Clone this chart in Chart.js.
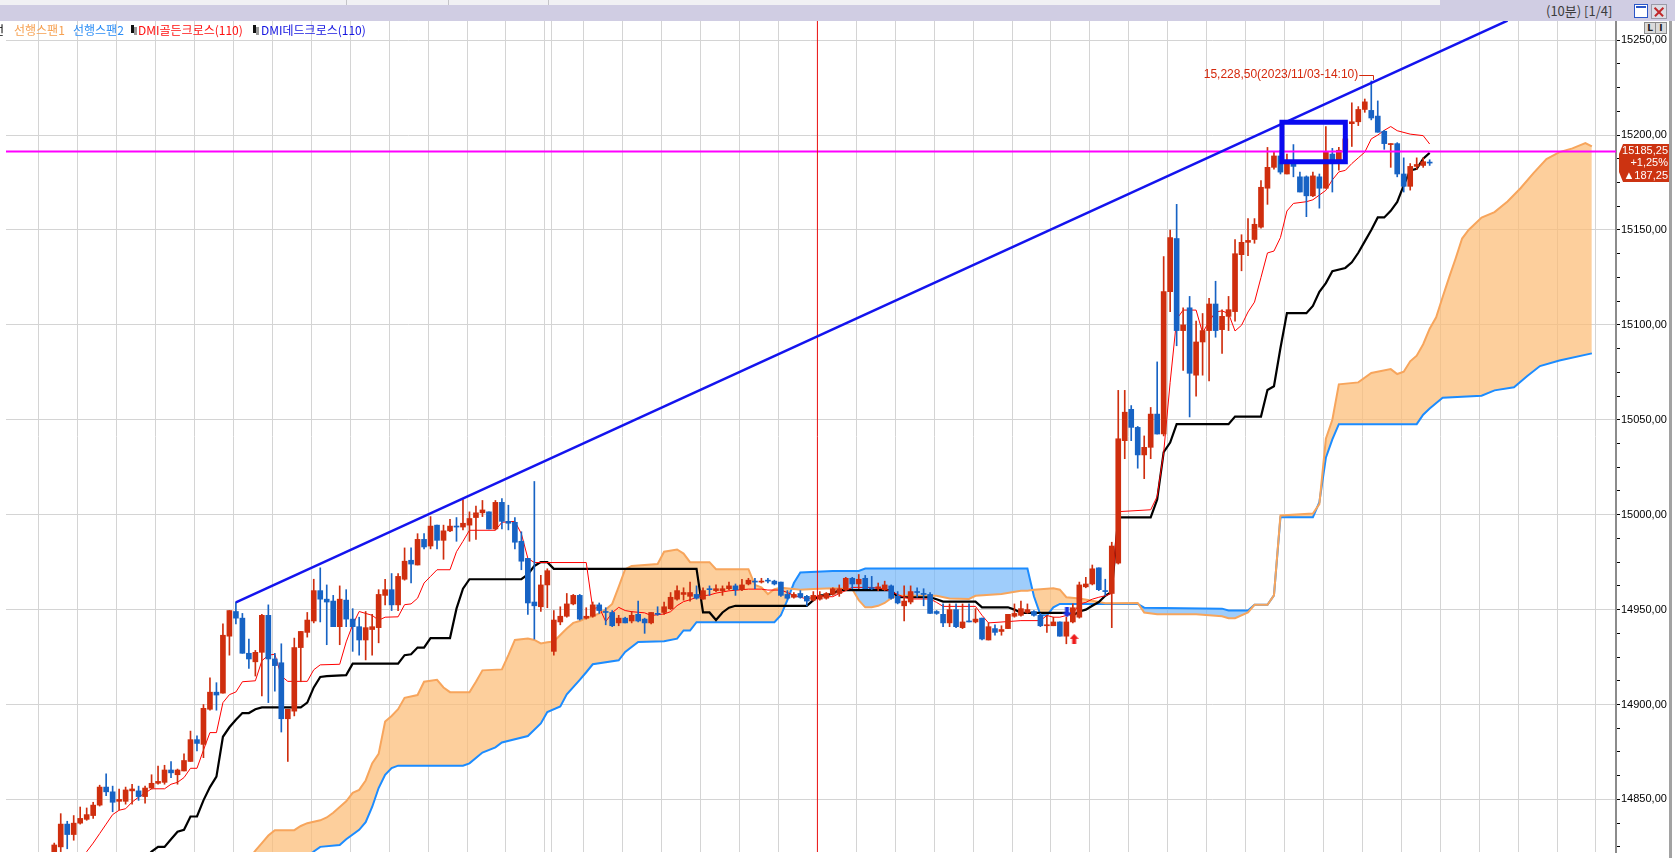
<!DOCTYPE html>
<html>
<head>
<meta charset="utf-8">
<script src="https://cdn.jsdelivr.net/npm/chart.js@4.4.1/dist/chart.umd.min.js"></script>
<style>
  html, body { margin: 0; padding: 0; background: #fff; overflow: hidden; }
  #wrap { position: relative; width: 1675px; height: 858px; }
  #chart { position: absolute; left: 0; top: 0; }
  #topbar { position: absolute; left: 0; top: 0; width: 1675px; height: 21px; background: #d0cde3; }
  #strip { position: absolute; left: 0; top: 0; width: 1440px; height: 5px; background: #f1f1f4; }
  .sep { position: absolute; top: 0; width: 1px; height: 5px; background: #c4c4c8; }
  #title { position: absolute; left: 1546px; top: 1px; font: 13px "Noto Sans CJK KR", sans-serif; line-height: 20px; color: #3c3c3c; white-space: nowrap; }
  #maxbtn { position: absolute; left: 1634px; top: 4px; width: 12px; height: 12px; border: 1px solid #2a56c8; background: #fff; }
  #maxbtn:after { content: ""; position: absolute; left: 1px; top: 1px; width: 10px; height: 2px; background: #2a56c8; }
  #closebtn { position: absolute; left: 1651px; top: 4px; width: 14px; height: 13px; background: #dcdce4; border: 1px solid #9a9aa8; }
  #closebtn i { position: absolute; left: 1px; top: 6px; width: 12px; height: 1.5px; background: #c0282a; }
  #closebtn i.a { transform: rotate(45deg); }
  #closebtn i.b { transform: rotate(-45deg); }
  .lg { position: absolute; top: 22px; font: 12px "Noto Sans CJK KR", sans-serif; line-height: 16px; white-space: nowrap; }
  .ico { position: absolute; top: 25px; width: 3px; height: 8px; background: #111; box-shadow: 3px 2px 0 #9a9a9a; }
  .mini { position: absolute; top: 22px; width: 10px; height: 10px; background: #dadada; border: 1px solid #8c8c8c; font: bold 9px "DejaVu Sans", sans-serif; line-height: 10px; text-align: center; color: #222; }
  #edge { position: absolute; left: 1669px; top: 21px; width: 3px; height: 837px; background: #a2a2a2; }
</style>
</head>
<body>
<div id="wrap">
  <canvas id="chart" width="1675" height="858"></canvas>
  <div id="topbar">
    <div id="strip"><div class="sep" style="left:346px"></div><div class="sep" style="left:448px"></div><div class="sep" style="left:548px"></div></div>
    <span id="title">(10분) [1/4]</span>
    <div id="maxbtn"></div>
    <div id="closebtn"><i class="a"></i><i class="b"></i></div>
  </div>
  <span class="lg" style="left:-29px;color:#000">기준선</span>
  <span class="lg" style="left:14px;color:#f6a050">선행스팬1</span>
  <span class="lg" style="left:73px;color:#2a8cf5">선행스팬2</span>
  <span class="ico" style="left:131px"></span>
  <span class="lg" style="left:138px;color:#ff1010">DMI골든크로스(110)</span>
  <span class="ico" style="left:253px"></span>
  <span class="lg" style="left:261px;color:#1414e0">DMI데드크로스(110)</span>
  <div class="mini" style="left:1644px">L</div>
  <div class="mini" style="left:1655px">I</div>
  <div id="edge"></div>
</div>
<script>
// 10-minute candles, bar index starts at firstBar
const firstBar = 2;
const opens = [
  14818, 14825, 14837, 14831.5, 14837.5, 14839.5, 14841.5, 14847, 14856.5, 14854,
  14849, 14849, 14854.5, 14854.5, 14851.5, 14856, 14858.5, 14859, 14865.5, 14863,
  14865, 14870, 14881.5, 14879, 14897.5, 14906.5, 14906, 14936, 14949, 14945.5,
  14927, 14922.5, 14927.5, 14947, 14924, 14922, 14892.5, 14896.5, 14930, 14938,
  14944, 14960, 14955.5, 14954.5, 14941, 14955, 14945, 14941, 14934, 14939.5,
  14940.5, 14957.5, 14960.5, 14952.5, 14966, 14976, 14973.5, 14987, 14983.5, 14994.5,
  14986.5, 14991.5, 14994, 14993.5, 14994.5, 14998.5, 15001, 15001.5, 14992.5, 15006.5,
  14996.5, 14996, 14986, 14977, 14954, 14951.5, 14963, 14928, 14943.5, 14946.5,
  14953, 14957.5, 14945.5, 14946.5, 14952.5, 14949, 14948.5, 14943, 14945.5, 14944,
  14947.5, 14945, 14943, 14948, 14948.5, 14950.5, 14955.5, 14958, 14957, 14958,
  14955.5, 14961, 14960, 14960, 14961, 14962.5, 14960.5, 14963.5, 14965, 14964.5,
  14965.5, 14965, 14964.5, 14958, 14956.5, 14958.5, 14957, 14955, 14955.5, 14956,
  14958, 14958.5, 14960.5, 14966.5, 14963.5, 14966.5, 14961.5, 14961, 14960.5, 14962.5,
  14957, 14952, 14954, 14959.5, 14958.5, 14958, 14949, 14947.5, 14943, 14950,
  14940.5, 14944, 14943.5, 14945.5, 14934, 14940, 14938.5, 14940, 14946.5, 14947,
  14948.5, 14949, 14947, 14941.5, 14941.5, 14943.5, 14936, 14943.5, 14946, 14962,
  14963.5, 14972, 14960, 14958.5, 14974.5, 15039, 15055.5, 15046, 15031.5, 15035.5,
  15053, 15042.5, 15117.5, 15145.5, 15097, 15109, 15073.5, 15091, 15097, 15111,
  15097.5, 15104.5, 15107, 15137, 15143.5, 15145, 15151.5, 15172, 15183, 15189,
  15179.5, 15185.5, 15178, 15178, 15168, 15178, 15172, 15190, 15185, 15192,
  15206, 15207, 15213.5, 15213, 15210, 15202, 15195, 15195.5, 15179.5, 15173,
  15183.5, 15184, 15185.5
];
const highs = [
  14827, 14842.5, 14838.5, 14841.5, 14846, 14845.5, 14848.5, 14857.5, 14863.5, 14857,
  14855.5, 14856.5, 14858, 14857, 14857, 14863, 14867.5, 14868, 14870, 14866,
  14874, 14886, 14883.5, 14900, 14914, 14911.5, 14942.5, 14949.5, 14954, 14948,
  14934.5, 14928.5, 14947.5, 14952.5, 14927, 14932, 14897.5, 14935, 14938.5, 14948.5,
  14966, 14972, 14963, 14957.5, 14962.5, 14960.5, 14950.5, 14946, 14949, 14947.5,
  14960.5, 14966, 14969, 14969, 14982.5, 14982.5, 14990, 14990, 14999, 14994.5,
  14994.5, 14997.5, 14998.5, 15008, 15001.5, 15004.5, 15007.5, 15001.5, 15007.5, 15008.5,
  15005, 14998.5, 14991, 14977, 15017.5, 14968, 14971.5, 14949.5, 14951.5, 14958.5,
  14958, 14958, 14951, 14954, 14953.5, 14951, 14949.5, 14947, 14946, 14949,
  14954.5, 14945.5, 14948.5, 14951.5, 14954, 14959, 14962.5, 14961.5, 14964.5, 14962.5,
  14961.5, 14962.5, 14963, 14962.5, 14964.5, 14963.5, 14966, 14966.5, 14966.5, 14966.5,
  14966.5, 14965.5, 14964.5, 14960, 14959, 14960, 14957.5, 14959.5, 14959.5, 14959,
  14961.5, 14963, 14967, 14967, 14968.5, 14968, 14967.5, 14964, 14965, 14963,
  14959.5, 14962.5, 14962.5, 14961.5, 14961, 14959, 14949.5, 14953, 14953, 14953,
  14953, 14953, 14950.5, 14945.5, 14943, 14942, 14941.5, 14947.5, 14953, 14954.5,
  14953, 14949.5, 14948, 14947, 14946, 14943.5, 14946, 14953, 14964.5, 14967,
  14973.5, 14972, 14966, 14985.5, 15065.5, 15065.5, 15057.5, 15046.5, 15041.5, 15056.5,
  15080.5, 15136, 15150, 15163.5, 15109, 15115, 15102, 15106, 15114, 15123,
  15108, 15115, 15145, 15147.5, 15156, 15156, 15176, 15193.5, 15191, 15192,
  15190, 15195, 15180.5, 15178.5, 15180.5, 15179.5, 15204.5, 15193, 15193.5, 15207,
  15217, 15215, 15219, 15228.5, 15218, 15202.5, 15195.5, 15196, 15188, 15185,
  15188, 15188, 15187
];
const lows = [
  14815, 14822.5, 14824, 14828.5, 14837, 14839, 14840, 14846.5, 14852, 14843.5,
  14844.5, 14847.5, 14847.5, 14849.5, 14848, 14855.5, 14858, 14858, 14861.5, 14858,
  14865, 14870, 14875.5, 14872, 14897, 14897, 14906, 14926, 14942.5, 14927,
  14919, 14915, 14904.5, 14901, 14907, 14885.5, 14870, 14894, 14912, 14935.5,
  14943, 14943.5, 14931.5, 14941, 14931.5, 14941, 14928, 14926, 14923.5, 14926,
  14932.5, 14952.5, 14949.5, 14949.5, 14965.5, 14964, 14973.5, 14982, 14982, 14982,
  14976.5, 14991, 14986, 14992, 14986, 14987, 14999, 14992.5, 14992, 14992.5,
  14992, 14982, 14971, 14947.5, 14934.5, 14949, 14951, 14926, 14942, 14946,
  14952.5, 14944.5, 14945, 14946, 14948, 14942, 14941, 14941.5, 14943, 14943,
  14943.5, 14937.5, 14942.5, 14947, 14947.5, 14950, 14955, 14955, 14954.5, 14955.5,
  14955.5, 14957.5, 14959.5, 14957.5, 14960.5, 14957.5, 14960, 14963, 14961, 14964,
  14964, 14963, 14957, 14955.5, 14956, 14956, 14952, 14954.5, 14955, 14955.5,
  14957.5, 14957, 14960, 14961, 14961, 14961, 14960.5, 14960, 14960, 14955.5,
  14953, 14944, 14953, 14956.5, 14952, 14948, 14947.5, 14941, 14941, 14940.5,
  14940, 14943.5, 14943, 14934, 14934, 14936.5, 14936.5, 14940, 14946, 14946.5,
  14948, 14946.5, 14941, 14938, 14941.5, 14936, 14932, 14943, 14945.5, 14961.5,
  14963, 14960, 14957.5, 14940.5, 14974, 15029.5, 15039, 15024.5, 15019, 15029.5,
  15042.5, 15041.5, 15107, 15089, 15076, 15051.5, 15062.5, 15073.5, 15070.5, 15093.5,
  15085, 15097, 15102, 15128.5, 15136.5, 15143, 15151, 15163.5, 15182, 15179.5,
  15179.5, 15178, 15170, 15157, 15167.5, 15161.5, 15172, 15170, 15181.5, 15191,
  15194, 15205, 15212, 15208, 15201.5, 15192.5, 15183, 15178, 15170, 15171,
  15182, 15183, 15184
];
const closes = [
  14826, 14837, 14831.5, 14837.5, 14840, 14842, 14847, 14856.5, 14854, 14848.5,
  14850, 14855, 14855.5, 14851.5, 14856, 14858.5, 14859.5, 14865.5, 14864, 14865.5,
  14870.5, 14881.5, 14879.5, 14898, 14906.5, 14905, 14936.5, 14949.5, 14945.5, 14927,
  14924, 14927.5, 14947, 14924, 14920.5, 14892.5, 14897.5, 14930, 14938.5, 14944.5,
  14960, 14955.5, 14954, 14941, 14955.5, 14945, 14941, 14934, 14940.5, 14941,
  14958, 14960.5, 14952.5, 14967.5, 14975.5, 14974, 14987, 14983, 14994, 14986.5,
  14991.5, 14994, 14993.5, 14995.5, 14998, 15001, 15002.5, 14992.5, 15006.5, 14996.5,
  14995.5, 14985.5, 14975.5, 14953.5, 14952, 14963, 14970.5, 14944.5, 14946.5, 14953,
  14957.5, 14945, 14946.5, 14952.5, 14949.5, 14948.5, 14941.5, 14945.5, 14943, 14947,
  14944, 14943, 14948.5, 14947.5, 14951.5, 14956.5, 14960, 14959, 14959, 14956,
  14960, 14960.5, 14961, 14961, 14962.5, 14960.5, 14963, 14965.5, 14964.5, 14965,
  14965, 14963.5, 14957.5, 14956, 14958, 14956.5, 14954.5, 14957.5, 14957.5, 14958.5,
  14961, 14961, 14966.5, 14963.5, 14966, 14961, 14961, 14962, 14963, 14956,
  14953.5, 14954.5, 14959.5, 14959, 14958, 14948, 14948, 14943, 14950, 14941,
  14943.5, 14943.5, 14945, 14934.5, 14941, 14938, 14939.5, 14947.5, 14948, 14950.5,
  14950, 14947, 14941.5, 14942, 14943.5, 14936, 14943.5, 14951, 14963, 14963.5,
  14971.5, 14960.5, 14959.5, 14983.5, 15040, 15054, 15046, 15031.5, 15035.5, 15053,
  15042.5, 15117.5, 15146, 15097, 15100, 15074.5, 15091, 15097, 15111, 15097,
  15104.5, 15108, 15137.5, 15143.5, 15144.5, 15153, 15172.5, 15183, 15189, 15180.5,
  15185, 15183.5, 15170, 15168, 15178.5, 15172, 15191, 15185, 15192, 15198,
  15207, 15213.5, 15217.5, 15209, 15201.5, 15195.5, 15195.5, 15179.5, 15173, 15183.5,
  15184.5, 15186, 15185.25
];

// ichimoku lines as [bar, price] turning points
const tenkan = [
  [5, 14812], [7, 14822.5], [8, 14827], [9, 14832], [10, 14837], [11, 14842], [12, 14844.3], [13, 14845.1],
  [14, 14848.6], [15, 14851.2], [16, 14853.3], [17, 14855.6], [19, 14855.6], [20, 14858], [21, 14859],
  [22, 14861.5], [23, 14866.4], [24, 14866.4], [25, 14876], [26, 14885.2], [27, 14885.2], [28, 14901],
  [29, 14905.2], [30, 14906.6], [31, 14912], [33, 14912.5], [34, 14923], [35, 14926], [36, 14926.5],
  [37, 14915], [38, 14912.2], [41, 14912.2], [42, 14918.3], [43, 14920.9], [46, 14921.2], [47, 14933],
  [48, 14942], [49, 14949], [51, 14947], [52, 14944.4], [53, 14946], [55, 14946.2], [56, 14952.6],
  [57, 14953], [58, 14956], [59, 14964], [60, 14967.5], [61, 14971], [63, 14971], [64, 14980.5],
  [65, 14986], [66, 14991.8], [70, 14991.8], [71, 14996], [73, 14996.5], [74, 14990], [75, 14977],
  [76, 14974.8], [84, 14974.8], [85, 14950.5], [86, 14951.2], [87, 14943.7], [88, 14948.3], [89, 14951.2],
  [90, 14949.5], [91, 14948.9], [93, 14948.3], [94, 14946.9], [96, 14947.7], [97, 14948.9], [98, 14952.1],
  [99, 14954.2], [100, 14955.2], [101, 14956.5], [102, 14957.3], [103, 14957.7], [104, 14958.7],
  [106, 14959.9], [109, 14960.8], [111, 14960.8], [112, 14960.3], [114, 14960.3], [115, 14959],
  [116, 14957.5], [118, 14955.6], [119, 14956.5], [120, 14957.3], [121, 14956.8], [122, 14956.8],
  [123, 14958.5], [124, 14960], [125, 14961.7], [128, 14961.7], [130, 14960.8], [131, 14959.5],
  [132, 14958], [133, 14956.5], [134, 14955.6], [137, 14955.6], [138, 14953.8], [139, 14951.7],
  [144, 14951.7], [145, 14947], [146, 14943], [149, 14943.7], [151, 14944.2], [154, 14944.2],
  [155, 14946.9], [156, 14946], [157, 14946], [158, 14946.9], [159, 14947.7], [160, 14953],
  [161, 14953.8], [162, 14955.5], [163, 14956.5], [164, 14957.3], [165, 14958.5], [166, 15001.6],
  [171, 15002.6], [172, 15009.6], [173, 15032.7], [174, 15069.7], [175, 15103], [176, 15107.8],
  [178, 15107.8], [179, 15095.8], [180, 15101.8], [181, 15106.8], [182, 15107.4], [183, 15106],
  [184, 15096.8], [185, 15099.8], [186, 15106.8], [187, 15112], [188, 15125], [189, 15137.9],
  [190, 15138.9], [191, 15146], [192, 15160], [193, 15164], [195, 15164.9], [196, 15165.9],
  [198, 15170.9], [199, 15176.4], [200, 15180.6], [201, 15181.4], [202, 15185], [203, 15188],
  [204, 15191], [205, 15198], [206, 15200], [207, 15202.5], [208, 15204.5], [209, 15202.3],
  [211, 15200.5], [213, 15199.7], [214, 15195.3]
];
const kijun = [
  [15, 14815], [17, 14822.5], [18, 14825], [19, 14825], [20, 14829], [21, 14833], [22, 14834], [23, 14841],
  [24, 14841], [25, 14849.5], [26, 14856.5], [27, 14862], [28, 14883], [29, 14888], [30, 14892],
  [31, 14895.5], [32, 14895.5], [33, 14897.5], [34, 14898.5], [40, 14898.5], [41, 14901], [42, 14909],
  [43, 14914.5], [44, 14915], [47, 14915.5], [48, 14921.5], [55, 14921.5], [56, 14926], [57, 14926.5],
  [58, 14930], [59, 14930], [60, 14935], [63, 14935], [64, 14950.5], [65, 14961], [66, 14966],
  [74, 14966], [75, 14968.5], [76, 14973], [77, 14975], [78, 14975], [79, 14971.5], [101, 14971.5],
  [102, 14948.5], [103, 14948.5], [104, 14944.5], [105, 14948.5], [106, 14951], [107, 14952],
  [118, 14952], [119, 14955], [120, 14957.5], [121, 14957.5], [122, 14958.5], [123, 14960.3],
  [131, 14960.3], [132, 14956.5], [137, 14956.5], [138, 14955.5], [139, 14954.2], [144, 14954.2],
  [145, 14951.2], [149, 14951.2], [150, 14950], [151, 14948.3], [158, 14948.3], [159, 14946.9],
  [160, 14949], [161, 14950], [162, 14952], [163, 14954], [164, 14957.3], [165, 14959.5],
  [166, 14998.6], [171, 14998.6], [172, 15008], [173, 15033], [174, 15038], [175, 15047.7],
  [183, 15047.7], [184, 15051.7], [188, 15051.7], [189, 15065.7], [190, 15067.7], [191, 15087.8],
  [192, 15106.2], [195, 15106.2], [196, 15110], [197, 15117.4], [198, 15122], [199, 15128.3],
  [201, 15130], [202, 15133], [203, 15138], [204, 15144], [205, 15150], [206, 15156.6],
  [207, 15156.6], [208, 15160.1], [209, 15164.8], [210, 15173.5], [211, 15181.4], [212, 15182.2],
  [213, 15187.5], [214, 15190.6]
];
const span1 = [
  [30, 14810], [33, 14823], [34, 14827], [35, 14831], [36, 14833.8], [39, 14833.8], [40, 14836],
  [41, 14837.5], [43, 14839], [44, 14840.5], [45, 14843], [46, 14846], [47, 14849], [48, 14853.5],
  [49, 14855], [50, 14860], [51, 14869], [52, 14874], [53, 14891], [54, 14894], [55, 14897.5],
  [56, 14903.5], [58, 14905], [59, 14912], [61, 14913], [62, 14909], [63, 14906.5], [66, 14906.5],
  [67, 14912], [68, 14918], [71, 14918.5], [72, 14926], [73, 14934], [75, 14934.8], [76, 14934],
  [77, 14932.2], [78, 14932.8], [79, 14933.2], [80, 14936.6], [81, 14940], [82, 14943], [83, 14944],
  [84, 14945.5], [85, 14946.5], [86, 14948], [87, 14950], [88, 14953], [89, 14962], [90, 14971.3],
  [91, 14973], [95, 14974], [96, 14980.5], [98, 14981.7], [99, 14979.5], [100, 14975], [103, 14975],
  [104, 14971.3], [109, 14971.3], [110, 14963], [111, 14961.7], [112, 14958.2], [113, 14960.8],
  [114, 14961.5], [116, 14960.8], [117, 14960.5], [119, 14960.8], [122, 14961.2], [124, 14961],
  [125, 14960.8], [126, 14955], [127, 14951.2], [128, 14951.2], [129, 14952], [130, 14953.5],
  [131, 14956], [132, 14957.3], [138, 14957.3], [140, 14955.9], [143, 14955.6], [144, 14957.3],
  [148, 14958.2], [151, 14959.9], [152, 14959.9], [153, 14960.5], [156, 14961.2], [157, 14960.5],
  [158, 14956.5], [160, 14955.9], [162, 14954.7], [164, 14953.3], [169, 14953.5], [170, 14948.5],
  [172, 14947.5], [178, 14947.5], [182, 14946.5], [183, 14945.5], [184, 14945.5], [186, 14948.5],
  [187, 14952.5], [189, 14952.5], [190, 14957.5], [191, 14999.6], [196, 15000.6], [197, 15005.6],
  [198, 15040], [199, 15050], [200, 15068.7], [203, 15069.7], [205, 15074.7], [208, 15076.7],
  [209, 15074.1], [210, 15075.3], [211, 15080.8], [212, 15083.8], [213, 15089.8], [214, 15098],
  [215, 15104], [216, 15114.7], [217, 15125], [218, 15135], [219, 15145.5], [220, 15150],
  [222, 15156.5], [224, 15159.4], [226, 15165], [228, 15172], [230, 15180], [232, 15187.4],
  [234, 15191], [236, 15193], [238, 15195.8], [239, 15194]
];
const span2 = [
  [30, 14790], [38, 14810], [42, 14822.6], [43, 14825], [46, 14826], [47, 14829], [49, 14834],
  [50, 14838], [51, 14846], [52, 14856], [53, 14863], [54, 14866.5], [55, 14867.8], [65, 14867.8],
  [66, 14869], [68, 14874.7], [70, 14877.4], [71, 14880], [75, 14883.4], [77, 14890], [78, 14896],
  [80, 14899], [81, 14905.4], [83, 14913], [84, 14917], [85, 14921.2], [89, 14923.3], [90, 14927.7],
  [92, 14932.9], [96, 14933.3], [98, 14934.7], [99, 14939], [100, 14939], [101, 14943.4],
  [113, 14943.4], [114, 14947], [115, 14955], [116, 14964], [117, 14969.5], [122, 14970.4],
  [126, 14970.4], [127, 14971.6], [152, 14971.6], [153, 14957], [154, 14947.2], [155, 14946.9],
  [156, 14951.2], [157, 14953], [169, 14953], [170, 14951], [182, 14950.5], [183, 14949.5],
  [186, 14949.5], [187, 14952.5], [189, 14952.5], [190, 14957.5], [191, 14998.6], [196, 14998.6],
  [197, 15006.6], [198, 15030], [199, 15039.7], [200, 15047.7], [212, 15047.7], [213, 15052.7],
  [214, 15056], [216, 15061.6], [222, 15062.7], [224, 15065.5], [227, 15067.1], [229, 15072.9],
  [231, 15078.3], [234, 15081.2], [239, 15085]
];

// drawings on the chart
const trendLine = [[30, 14953.8], [226, 15260.3]];
const levelPrice = 15191.4;
const markerBar = 119.63;
const boxBars = [191.23, 201.0];
const boxPrices = [15186, 15206.75];
const goldCross = [[159.2, 14934.6]];
const deadCross = [[158.1, 14948.5]];
const peakBar = 205;
const peakPrice = 15228.5;
const peakLabel = '15,228,50(2023/11/03-14:10)';
const lastTag = ['15185,25', '+1,25%', '\u25B2187,25'];

// axis layout
const yMin = 14822.3, yMax = 15260.1;
const yTicks = [];
for (let v = 14825; v <= 15250; v += 12.5) yTicks.push(v);
const xMin = -5.436, xMax = 242.72;
const xGrid = [];
for (let k = 0; k <= 40; k++) xGrid.push(k * 6 - 0.37);
xGrid.push(78.6);

const UP = '#cf2e0e';
const DOWN = '#1763c4';
const NOTE_RED = '#d4280c';
const AXIS_FONT = '"Liberation Sans", Arial, sans-serif';

const bars = opens.map((o, k) => firstBar + k);
const bodyData = bars.map((b, k) => ({x: b, y: [opens[k], closes[k]]}));
const wickData = bars.map((b, k) => ({x: b, y: [lows[k], highs[k]]}));
const candleColors = closes.map((c, k) => c >= opens[k] ? UP : DOWN);
const pts = list => list.map(p => ({x: p[0], y: p[1]}));

function arrowImage(color, up) {
    const c = document.createElement('canvas');
    c.width = 9; c.height = 10;
    const g = c.getContext('2d');
    g.fillStyle = color;
    g.beginPath();
    if (up) {
        g.moveTo(4.5, 0); g.lineTo(9, 5); g.lineTo(0, 5);
        g.closePath(); g.fill();
        g.fillRect(2.5, 5, 4, 5);
    } else {
        g.fillRect(2.5, 0, 4, 5);
        g.moveTo(0, 5); g.lineTo(9, 5); g.lineTo(4.5, 10);
        g.closePath(); g.fill();
    }
    return c;
}

const lineBase = {type: 'line', pointRadius: 0, tension: 0, fill: false};

const overlay = {
    id: 'overlay',
    afterDraw(chart) {
        const {ctx, scales: {x, y}, chartArea} = chart;
        ctx.save();
        // peak note
        const px = x.getPixelForValue(peakBar);
        const py = y.getPixelForValue(peakPrice);
        const ly = Math.round(py - 6) + 0.5;
        ctx.strokeStyle = NOTE_RED;
        ctx.lineWidth = 1;
        ctx.beginPath();
        ctx.moveTo(px - 12, ly);
        ctx.lineTo(Math.round(px + 2) + 0.5, ly);
        ctx.lineTo(Math.round(px + 2) + 0.5, py - 1);
        ctx.stroke();
        ctx.font = '12px ' + AXIS_FONT;
        ctx.fillStyle = NOTE_RED;
        ctx.textAlign = 'right';
        ctx.textBaseline = 'middle';
        ctx.fillText(peakLabel, px - 13, py - 6);
        // last price tag on the axis
        const ty = y.getPixelForValue(closes[closes.length - 1]);
        const left = chartArea.right + 3;
        const right = chart.width - 6;
        ctx.fillStyle = '#cc3311';
        ctx.beginPath();
        ctx.moveTo(left + 4, ty - 19);
        ctx.lineTo(right, ty - 19);
        ctx.lineTo(right, ty + 19);
        ctx.lineTo(left + 4, ty + 19);
        ctx.lineTo(left, ty + 9);
        ctx.lineTo(left, ty - 9);
        ctx.closePath();
        ctx.fill();
        ctx.fillStyle = '#fff';
        ctx.font = '11px ' + AXIS_FONT;
        lastTag.forEach((t, k) => ctx.fillText(t, right - 1, ty + (k - 1) * 12.5));
        ctx.restore();
    }
};

const config = {
    type: 'line',
    data: {
        datasets: [
            {...lineBase, data: pts(deadCross), showLine: false, pointRadius: 5, pointStyle: arrowImage('#1a36e6', false)},
            {...lineBase, data: pts(goldCross), showLine: false, pointRadius: 5, pointStyle: arrowImage('#ee1c1c', true)},
            {...lineBase, data: pts([[boxBars[0], boxPrices[1]], [boxBars[1], boxPrices[1]], [boxBars[1], boxPrices[0]],
                [boxBars[0], boxPrices[0]], [boxBars[0], boxPrices[1]], [boxBars[1], boxPrices[1]]]),
                borderColor: '#0a0af0', borderWidth: 5, borderJoinStyle: 'miter'},
            {...lineBase, data: pts(trendLine), borderColor: '#1414ee', borderWidth: 2.5},
            {...lineBase, data: pts([[markerBar, 14700], [markerBar, 15400]]), borderColor: '#ee1111', borderWidth: 1},
            {...lineBase, data: pts([[xMin, levelPrice], [xMax, levelPrice]]), borderColor: '#ff00ff', borderWidth: 2},
            {type: 'bar', data: bodyData, backgroundColor: candleColors, barThickness: 5, minBarLength: 1, grouped: false, borderWidth: 0},
            {type: 'bar', data: wickData, backgroundColor: candleColors, barThickness: 1, grouped: false, borderWidth: 0},
            {...lineBase, data: pts(tenkan), borderColor: '#ff0000', borderWidth: 1},
            {...lineBase, data: pts(kijun), borderColor: '#000000', borderWidth: 2.2},
            {...lineBase, data: pts(span1), borderColor: '#f7a55c', borderWidth: 2,
                fill: {target: 11, above: 'rgba(252,188,118,0.72)', below: 'rgba(118,184,250,0.7)'}},
            {...lineBase, data: pts(span2), borderColor: '#1c8cff', borderWidth: 2}
        ]
    },
    options: {
        responsive: false,
        animation: false,
        devicePixelRatio: 1,
        events: [],
        layout: {padding: {top: 21, left: 0, right: 0, bottom: 0}},
        plugins: {
            legend: {display: false},
            tooltip: {enabled: false},
            filler: {drawTime: 'beforeDatasetsDraw'}
        },
        scales: {
            x: {
                type: 'linear',
                min: xMin,
                max: xMax,
                offset: false,
                afterBuildTicks: scale => { scale.ticks = xGrid.map(v => ({value: v})); },
                afterFit: scale => { scale.height = 0; scale.paddingLeft = 0; scale.paddingRight = 0; },
                grid: {color: '#d4d4d4', lineWidth: 1, drawTicks: false, offset: false},
                border: {display: false},
                ticks: {display: false}
            },
            y: {
                position: 'right',
                min: yMin,
                max: yMax,
                afterBuildTicks: scale => { scale.ticks = yTicks.map(v => ({value: v})); },
                afterFit: scale => { scale.width = 59; scale.paddingTop = 0; scale.paddingBottom = 0; },
                grid: {
                    color: c => (c.tick && c.tick.value % 50 === 0) ? '#d4d4d4' : 'rgba(0,0,0,0)',
                    tickColor: '#000',
                    tickLength: 4,
                    lineWidth: 1
                },
                border: {display: true, color: '#8c8c8c', width: 2},
                ticks: {
                    autoSkip: false,
                    padding: 1,
                    color: '#000',
                    font: {size: 11, family: AXIS_FONT},
                    callback: v => v % 50 === 0 ? v.toFixed(2).replace('.', ',') : ''
                }
            }
        }
    },
    plugins: [overlay]
};

const myChart = new Chart(document.getElementById('chart'), config);
</script>
</body>
</html>
